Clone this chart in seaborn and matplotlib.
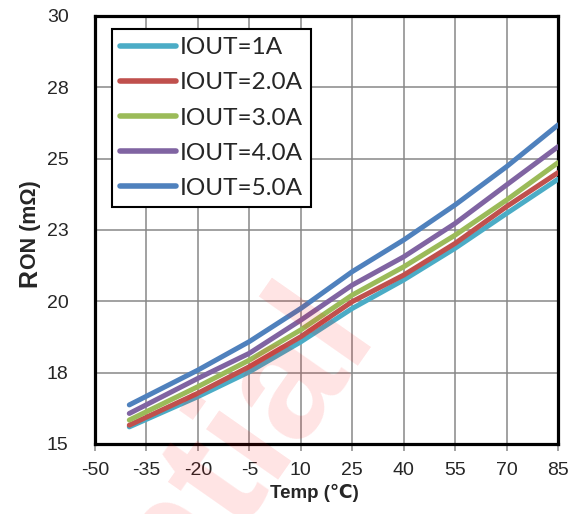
import matplotlib
matplotlib.use("Agg")
import matplotlib.pyplot as plt
import seaborn as sns
import pandas as pd

temps = [-40, -20, -5, 10, 25, 40, 55, 70, 85]
r_1a = [15.60, 16.66, 17.53, 18.58, 19.75, 20.75, 21.86, 23.08, 24.28]
r_2a = [15.66, 16.78, 17.71, 18.76, 19.99, 20.92, 22.03, 23.32, 24.51]
r_3a = [15.84, 17.01, 17.94, 19.00, 20.22, 21.21, 22.32, 23.55, 24.86]
r_4a = [16.07, 17.30, 18.18, 19.34, 20.57, 21.56, 22.73, 24.08, 25.42]
r_5a = [16.37, 17.59, 18.59, 19.75, 21.04, 22.15, 23.38, 24.72, 26.18]
series_names = ["IOUT=1A", "IOUT=2.0A", "IOUT=3.0A", "IOUT=4.0A", "IOUT=5.0A"]
colors = ["#4BACC6", "#C0504D", "#9BBB59", "#8064A2", "#4F81BD"]
x_ticks = [-50, -35, -20, -5, 10, 25, 40, 55, 70, 85]
y_ticks = [15, 17.5, 20, 22.5, 25, 27.5, 30]
y_tick_labels = ["15", "18", "20", "23", "25", "28", "30"]

rows = []
for name, vals in zip(series_names, [r_1a, r_2a, r_3a, r_4a, r_5a]):
    for t, v in zip(temps, vals):
        rows.append({"Temp": t, "RON": v, "series": name})
df = pd.DataFrame(rows)

sns.set_style("white")
plt.rcParams["font.family"] = ["Liberation Sans", "DejaVu Sans"]

W, H = 579, 514
fig = plt.figure(figsize=(W / 100, H / 100), dpi=100)
ax = fig.add_axes([95 / W, 1 - 444 / H, 463 / W, 428 / H])

sns.lineplot(data=df, x="Temp", y="RON", hue="series", hue_order=series_names,
             palette=colors, linewidth=3.6, ax=ax, sort=True, zorder=3,
             solid_capstyle="round")

ax.set_xlim(-50, 85)
ax.set_ylim(15, 30)
ax.set_xticks(x_ticks)
ax.set_xticklabels([str(v) for v in x_ticks])
ax.set_yticks(y_ticks)
ax.set_yticklabels(y_tick_labels)
ax.grid(True, color="#878787", linewidth=1.1, zorder=0)
ax.set_axisbelow(True)
for s in ax.spines.values():
    s.set_color("black")
    s.set_linewidth(2.3)
    s.set_visible(True)
ax.tick_params(axis="x", which="both", bottom=True, length=5, width=1.1,
               color="#878787", direction="out", pad=8, labelsize=14)
ax.tick_params(axis="y", which="both", left=False, length=0, pad=19, labelsize=14)

ax.set_xlabel("Temp (\u2103)", fontsize=13.5, fontweight="bold", va="top")
ax.xaxis.set_label_coords((314 - 95) / 463, -(484 - 444) / 428)
ax.set_ylabel("")

# y label: larger "R" followed by "ON (mΩ)"
base_x = 36 / W
start_y = 1 - 287 / H
r_txt = fig.text(base_x, start_y, "R", rotation=90, rotation_mode="anchor",
                 ha="left", va="baseline", fontsize=18, fontweight="bold")
fig.canvas.draw()
bb = r_txt.get_window_extent()
fig.text(base_x, bb.y1 / H, "ON (m\u03a9)", rotation=90, rotation_mode="anchor",
         ha="left", va="baseline", fontsize=15.5, fontweight="bold")

# watermark
fig.text(376 / W, 1 - 331 / H, "Confidential", fontsize=120, color="red",
         fontweight="bold", alpha=0.11, rotation=55, rotation_mode="anchor",
         ha="right", va="baseline", zorder=1, family="Liberation Sans")

handles, labels = ax.get_legend_handles_labels()
for h in handles:
    h.set_linewidth(4.0)
    h.set_solid_capstyle("round")
leg = ax.legend(handles, labels, loc="upper left", bbox_to_anchor=(0.036, 0.97),
                borderaxespad=0, frameon=True, fancybox=False, edgecolor="black",
                framealpha=1, prop={"family": "Lato", "size": 17.5},
                handlelength=2.3, handletextpad=0.15, labelspacing=0.58,
                borderpad=0.35)
leg.get_frame().set_linewidth(1.5)
leg.set_zorder(5)

fig.savefig("out.png", dpi=100)
